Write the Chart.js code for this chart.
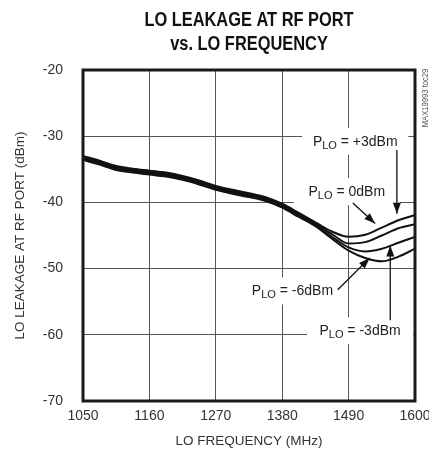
<!DOCTYPE html>
<html>
<head>
<meta charset="utf-8">
<script src="https://cdn.jsdelivr.net/npm/chart.js@4/dist/chart.umd.min.js"></script>
<style>
html,body{margin:0;padding:0;background:#fff;}
#wrap{width:429px;height:462px;}
</style>
</head>
<body>
<div id="wrap"><canvas id="c" width="429" height="462"></canvas></div>
<script>
const freqMHz = [1050,1077.5,1105,1132.5,1160,1187.5,1215,1242.5,1270,1297.5,1325,1352.5,1380,1407.5,1435,1462.5,1490,1517.5,1545,1572.5,1600];
const pPlus3 = [-33.0,-33.7,-34.5,-34.9,-35.2,-35.5,-36.0,-36.7,-37.5,-38.1,-38.6,-39.2,-40.2,-41.6,-43.0,-44.4,-45.2,-44.9,-43.8,-42.7,-41.9];
const p0     = [-33.2,-33.9,-34.7,-35.1,-35.4,-35.7,-36.2,-36.9,-37.7,-38.3,-38.8,-39.4,-40.4,-41.8,-43.2,-44.8,-46.2,-46.0,-45.0,-43.9,-43.3];
const pMinus3= [-33.4,-34.1,-34.9,-35.3,-35.6,-35.9,-36.4,-37.1,-37.9,-38.5,-39.0,-39.6,-40.6,-42.0,-43.4,-45.2,-46.8,-47.4,-47.0,-46.1,-45.2];
const pMinus6= [-33.6,-34.3,-35.1,-35.5,-35.8,-36.1,-36.6,-37.3,-38.1,-38.7,-39.2,-39.8,-40.8,-42.2,-43.6,-45.5,-47.3,-48.4,-48.9,-48.2,-47.0];
const seriesNames = ['+3dBm','0dBm','-3dBm','-6dBm'];
const xTicks = [1050,1160,1270,1380,1490,1600];
const yTicks = [-70,-60,-50,-40,-30,-20];
const titleLines = ['LO LEAKAGE AT RF PORT','vs. LO FREQUENCY'];
const xTitle = 'LO FREQUENCY (MHz)';
const yTitle = 'LO LEAKAGE AT RF PORT (dBm)';
const tocText = 'MAX19993 toc29';
// callouts: label center and arrow from/to, in data units
const callouts = [
  {name:'+3dBm', x:1501, y:-30.7, from:[1570,-32.1], to:[1570,-41.7]},
  {name:'0dBm',  x:1487, y:-38.3, from:[1497,-40.1], to:[1534,-43.2]},
  {name:'-6dBm', x:1397, y:-53.3, from:[1472,-53.2], to:[1525,-48.4]},
  {name:'-3dBm', x:1509, y:-59.3, from:[1559,-57.8], to:[1559,-46.5]}
];

const FONT = "'Liberation Sans', Arial, sans-serif";

function mk(name, arr){
  return {label:'PLO = '+name, data: freqMHz.map((f,i)=>({x:f,y:arr[i]})),
    borderColor:'#111', borderWidth:2, pointRadius:0, fill:false,
    cubicInterpolationMode:'monotone'};
}

function drawLabel(ctx, cx, cy, name){
  const big = "14px " + FONT, small = "11px " + FONT;
  ctx.font = big; const wP = ctx.measureText('P').width;
  ctx.font = small; const wLO = ctx.measureText('LO').width;
  ctx.font = big; const rest = ' = ' + name;
  const wR = ctx.measureText(rest).width;
  const total = wP + wLO + wR;
  let x = cx - total/2;
  ctx.fillStyle = '#222'; ctx.textBaseline = 'alphabetic'; ctx.textAlign='left';
  const base = cy + 5;
  ctx.font = big; ctx.fillText('P', x, base); x += wP;
  ctx.font = small; ctx.fillText('LO', x, base + 3); x += wLO;
  ctx.font = big; ctx.fillText(rest, x, base);
  return total;
}

const annot = {
  id:'annot',
  beforeDatasetsDraw(chart){
    const ctx = chart.ctx, xs = chart.scales.x, ys = chart.scales.y;
    ctx.save();
    ctx.fillStyle = '#fff';
    callouts.forEach(c=>{
      const px = xs.getPixelForValue(c.x), py = ys.getPixelForValue(c.y);
      const w = 92;
      ctx.fillRect(px - w/2 - 7, py - 13, w + 14, 27);
    });
    ctx.restore();
  },
  afterDatasetsDraw(chart){
    const ctx = chart.ctx, xs = chart.scales.x, ys = chart.scales.y, a = chart.chartArea;
    ctx.save();
    callouts.forEach(c=>{
      drawLabel(ctx, xs.getPixelForValue(c.x), ys.getPixelForValue(c.y), c.name);
      const x1 = xs.getPixelForValue(c.from[0]), y1 = ys.getPixelForValue(c.from[1]);
      const x2 = xs.getPixelForValue(c.to[0]), y2 = ys.getPixelForValue(c.to[1]);
      ctx.strokeStyle = '#111'; ctx.lineWidth = 1.3;
      ctx.beginPath(); ctx.moveTo(x1,y1); ctx.lineTo(x2,y2); ctx.stroke();
      const ang = Math.atan2(y2-y1, x2-x1), L = 11, W = 4;
      ctx.fillStyle = '#111';
      ctx.beginPath();
      ctx.moveTo(x2,y2);
      ctx.lineTo(x2 - L*Math.cos(ang) + W*Math.sin(ang), y2 - L*Math.sin(ang) - W*Math.cos(ang));
      ctx.lineTo(x2 - L*Math.cos(ang) - W*Math.sin(ang), y2 - L*Math.sin(ang) + W*Math.cos(ang));
      ctx.closePath(); ctx.fill();
    });
    // frame
    ctx.strokeStyle = '#1a1a1a'; ctx.lineWidth = 3;
    ctx.strokeRect(a.left, a.top, a.right - a.left, a.bottom - a.top);
    // title (condensed by horizontal scaling)
    const cx = (a.left + a.right)/2;
    ctx.save();
    ctx.translate(cx, 0);
    ctx.scale(0.82, 1);
    ctx.fillStyle = '#111'; ctx.textAlign = 'center'; ctx.textBaseline = 'middle';
    ctx.font = "bold 20px " + FONT;
    ctx.fillText(titleLines[0], 0, 20);
    ctx.fillText(titleLines[1], 0, 44);
    ctx.restore();
    // toc text
    ctx.save();
    ctx.translate(426, a.top + 28);
    ctx.rotate(-Math.PI/2);
    ctx.scale(0.85, 1);
    ctx.font = "9px " + FONT; ctx.fillStyle = '#555';
    ctx.textAlign='center'; ctx.textBaseline='middle';
    ctx.fillText(tocText, 0, 0);
    ctx.restore();
    ctx.restore();
  }
};

new Chart(document.getElementById('c'), {
  type:'line',
  data:{ datasets:[mk(seriesNames[0],pPlus3), mk(seriesNames[1],p0), mk(seriesNames[2],pMinus3), mk(seriesNames[3],pMinus6)] },
  options:{
    responsive:false, animation:false, devicePixelRatio:1,
    layout:{padding:{top:70,left:0,right:14,bottom:0}},
    plugins:{legend:{display:false}, title:{display:false}, tooltip:{enabled:false}},
    scales:{
      x:{type:'linear', min:1050, max:1600,
        afterBuildTicks:s=>{ s.ticks = xTicks.map(v=>({value:v})); },
        afterFit:s=>{ s.height = 61; s.paddingLeft = 0; s.paddingRight = 0; },
        ticks:{font:{family:FONT,size:14}, color:'#333', padding:7, maxRotation:0, autoSkip:false,
          callback:v=>String(v)},
        grid:{color:'#555', lineWidth:1, drawTicks:false},
        border:{display:false},
        title:{display:true, text:xTitle, font:{family:FONT,size:13.5}, color:'#333', padding:{top:0,bottom:13}}
      },
      y:{type:'linear', min:-70, max:-20,
        afterBuildTicks:s=>{ s.ticks = yTicks.map(v=>({value:v})); },
        afterFit:s=>{ s.width = 83; s.paddingTop = 0; s.paddingBottom = 0; },
        ticks:{font:{family:FONT,size:14}, color:'#333', padding:20, autoSkip:false,
          callback:v=>String(v)},
        grid:{color:'#555', lineWidth:1, drawTicks:false},
        border:{display:false},
        title:{display:true, text:yTitle, font:{family:FONT,size:13.5}, color:'#333', padding:{top:12,bottom:0}}
      }
    }
  },
  plugins:[annot]
});
</script>
</body>
</html>
